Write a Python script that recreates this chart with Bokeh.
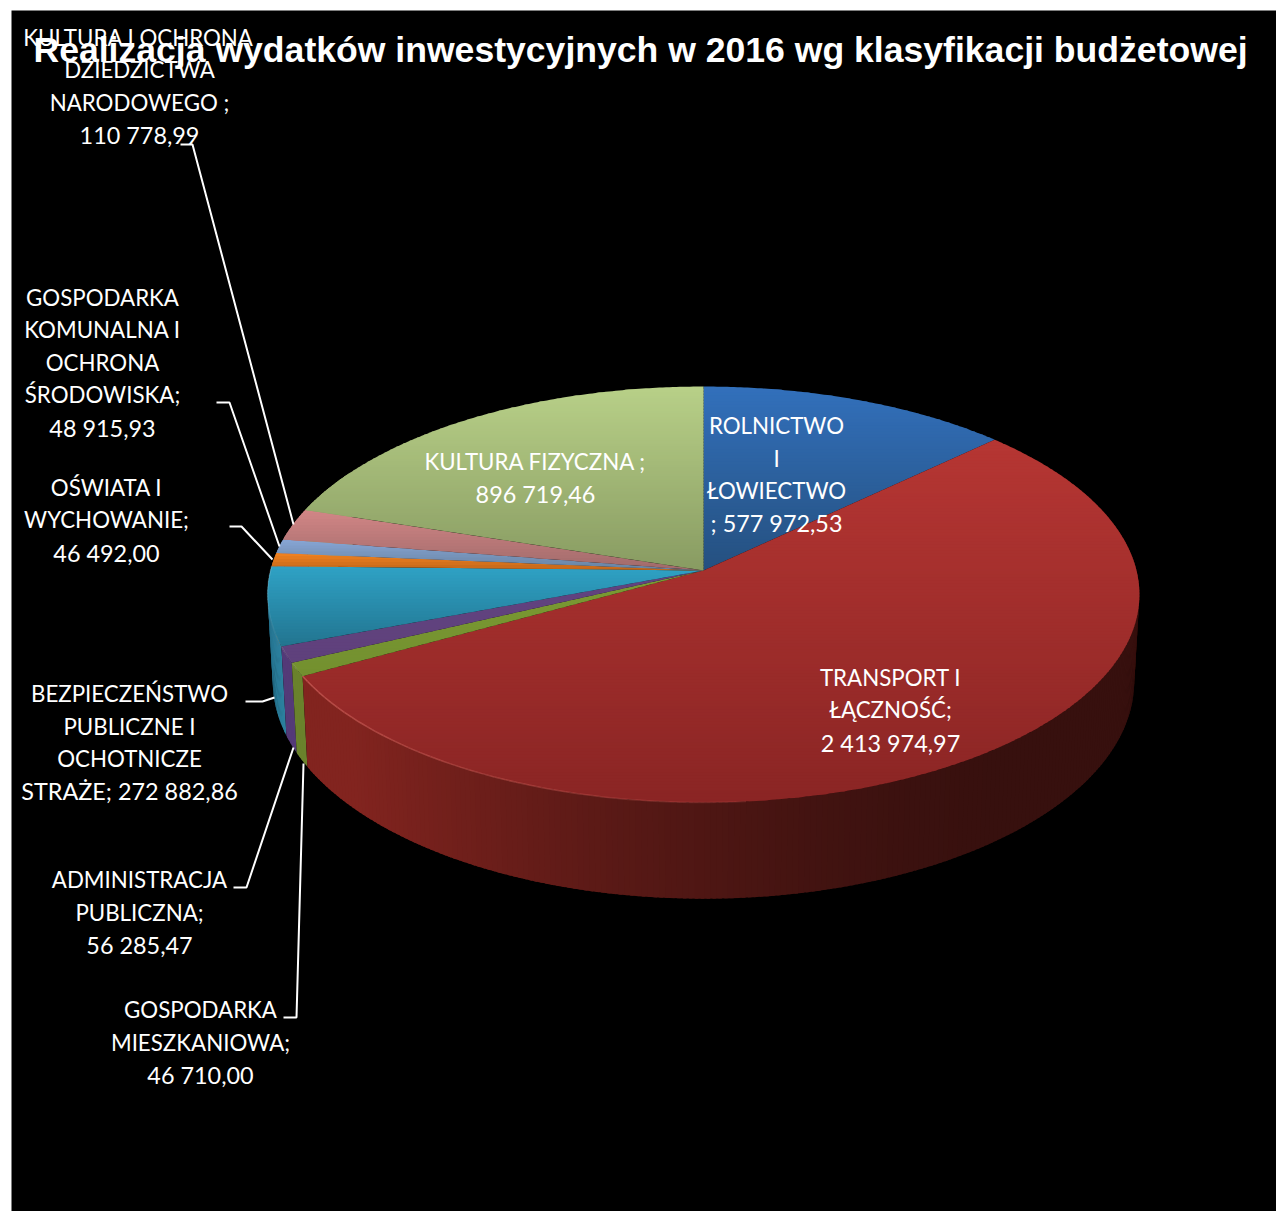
import math
from bokeh.embed import file_html
from bokeh.models import Range1d
from bokeh.plotting import figure
from bokeh.core.properties import value
from bokeh.resources import INLINE

# ---- data -------------------------------------------------------------
title = "Realizacja wydatków inwestycyjnych w 2016 wg klasyfikacji budżetowej"
categories = ["ROLNICTWO I ŁOWIECTWO", "TRANSPORT I ŁĄCZNOŚĆ", "GOSPODARKA MIESZKANIOWA",
              "ADMINISTRACJA PUBLICZNA", "BEZPIECZEŃSTWO PUBLICZNE I OCHOTNICZE STRAŻE",
              "OŚWIATA I WYCHOWANIE", "GOSPODARKA KOMUNALNA I OCHRONA ŚRODOWISKA",
              "KULTURA I OCHRONA DZIEDZICTWA NARODOWEGO", "KULTURA FIZYCZNA"]
values = [577972.53, 2413974.97, 46710.00, 56285.47, 272882.86,
          46492.00, 48915.93, 110778.99, 896719.46]

# ---- styles ------------------------------------------------------------
face_top = ["#3270bb", "#b63633", "#7b9a33", "#624380", "#2fa2c5", "#f2821f", "#88a6d6", "#d28686", "#b8d088"]
face_bot = ["#25507f", "#8a2524", "#73902f", "#5f417c", "#22748f", "#c0661a", "#66829f", "#a06a6a", "#889b62"]
side_left = ["#25507f", "#82241f", "#6a822c", "#543a78", "#2c809e", "#c0661a", "#66829f", "#a06a6a", "#889b62"]
side_right = ["#25507f", "#37100e", "#6a822c", "#543a78", "#1f6680", "#c0661a", "#66829f", "#a06a6a", "#889b62"]

CX, CY, A, B, K = 703.0, 570.0, 433.0, 205.2, 0.1154
CY2, SX2, SY2 = 656.0, 0.988, 1.044


def hex2(c):
    return [int(c[i:i + 2], 16) for i in (1, 3, 5)]


def mix(c1, c2, t):
    t = max(0.0, min(1.0, t))
    a, b = hex2(c1), hex2(c2)
    return "#%02x%02x%02x" % tuple(round(a[i] + (b[i] - a[i]) * t) for i in range(3))


def top_pt(th):
    s, c = math.sin(th), math.cos(th)
    w = 1 + K * c
    return CX + A * s / w, CY - B * c / w


def bot_pt(th):
    x, y = top_pt(th)
    return CX + (x - CX) * SX2, CY2 + (y - CY) * SY2


def clip(poly, lo, hi):
    def cut(pts, inside, yb):
        out = []
        for i, p in enumerate(pts):
            q = pts[(i + 1) % len(pts)]
            ip, iq = inside(p[1]), inside(q[1])
            if ip:
                out.append(p)
            if ip != iq:
                t = (yb - p[1]) / (q[1] - p[1])
                out.append((p[0] + (q[0] - p[0]) * t, yb))
        return out
    r = cut(poly, lambda y: y >= lo, lo)
    return cut(r, lambda y: y <= hi, hi) if r else r


total = sum(values)
angles = [0.0]
for v in values:
    angles.append(angles[-1] + v / total * 2 * math.pi)

# ---- figure ------------------------------------------------------------
p = figure(width=1276, height=1211, output_backend="svg", toolbar_location=None,
           x_range=Range1d(0, 1276), y_range=Range1d(1211, 0), min_border=0,
           background_fill_color="white", border_fill_color="white")
p.axis.visible = False
p.grid.visible = False
p.outline_line_color = None
p.quad(left=[11], right=[1276], top=[10], bottom=[1211], fill_color="black", line_color=None)

# side walls (only the near half can be seen), painted far to near
walls = []
for i in range(len(values)):
    a0, a1 = angles[i], angles[i + 1]
    lo, hi = max(a0, math.radians(60)), min(a1, math.radians(300))
    if hi <= lo:
        continue
    n = max(2, int((hi - lo) / math.radians(0.7)))
    for j in range(n):
        t0 = lo + (hi - lo) * j / n
        t1 = lo + (hi - lo) * min(j + 1.6, n) / n
        x0, y0 = top_pt(t0); x1, y1 = top_pt(t1)
        x2, y2 = bot_pt(t1); x3, y3 = bot_pt(t0)
        u = (x0 - 267) / 872
        if i == 1:
            col = mix("#37100e", side_left[i], max(0, (0.85 - u) / 0.75) ** 1.5)
        else:
            col = mix(side_left[i], side_right[i], (j + 0.5) / n)
        walls.append((max(y2, y3), [x0, x1, x2, x3], [y0, y1, y2, y3], col))
walls.sort(key=lambda w: w[0])
p.patches([w[1] for w in walls], [w[2] for w in walls], fill_color=[w[3] for w in walls], line_color=None)

# top face, painted in horizontal bands for the vertical gradient
fx, fy, fc = [], [], []
for i in range(len(values)):
    a0, a1 = angles[i], angles[i + 1]
    n = max(4, int((a1 - a0) / math.radians(0.5)))
    poly = [(CX, CY)] + [top_pt(a0 + (a1 - a0) * j / n) for j in range(n + 1)]
    ys = [q[1] for q in poly]
    ymin, ymax = min(ys), max(ys)
    y = ymin
    while y < ymax:
        part = clip(poly, y, min(y + 3.8, ymax))
        if len(part) >= 3:
            fx.append([q[0] for q in part]); fy.append([q[1] for q in part])
            fc.append(mix(face_top[i], face_bot[i], (y + 1.5 - ymin) / (ymax - ymin)))
        y += 3.0
p.patches(fx, fy, fill_color=fc, line_color=None)

# bevelled rim light on the near edge
rx, ry, ra, rc = [], [], [], []
for i in (1, 2, 3, 4):
    a0, a1 = max(angles[i], math.radians(175)), angles[i + 1]
    n = max(2, int((a1 - a0) / math.radians(1.5)))
    for j in range(n):
        t0 = a0 + (a1 - a0) * j / n
        t1 = a0 + (a1 - a0) * (j + 1) / n
        x0, y0 = top_pt(t0); x1, y1 = top_pt(t1)
        rx.append([x0, x1]); ry.append([y0, y1])
        rc.append("#d0605a" if i == 1 else "#ffffff")
        ra.append((0.75 if i == 1 else 0.18) * (0.25 + 0.75 * (t0 - a0) / max(a1 - a0, 1e-6)))
p.multi_line(rx, ry, line_color=rc, line_alpha=ra, line_width=1.5)

# ---- leader lines ------------------------------------------------------
leader_x = [[180, 192, 293], [216, 229, 279], [229, 241, 272], [245, 262, 274], [233, 246, 293], [283, 296, 303]]
leader_y = [[144, 144, 524], [402, 402, 546], [526, 526, 559], [701, 701, 697], [887, 887, 747], [1017, 1017, 763]]
p.multi_line(leader_x, leader_y, line_color="white", line_width=2)

# ---- labels ------------------------------------------------------------
word_lines = [
    ("KULTURA I OCHRONA", 138, 37), ("DZIEDZICTWA", 139, 69), ("NARODOWEGO ;", 139, 102),
    ("GOSPODARKA", 102, 297), ("KOMUNALNA I", 102, 329), ("OCHRONA", 102, 362), ("ŚRODOWISKA;", 102, 394),
    ("OŚWIATA I", 106, 487), ("WYCHOWANIE;", 106, 519),
    ("BEZPIECZEŃSTWO", 129, 693), ("PUBLICZNE I", 129, 726), ("OCHOTNICZE", 129, 758),
    ("ADMINISTRACJA", 139, 879), ("PUBLICZNA;", 139, 912),
    ("GOSPODARKA", 200, 1009), ("MIESZKANIOWA;", 200, 1042),
    ("KULTURA FIZYCZNA ;", 535, 461),
    ("ROLNICTWO", 776, 425), ("I", 776, 458), ("ŁOWIECTWO", 776, 490),
    ("TRANSPORT I", 890, 677), ("ŁĄCZNOŚĆ;", 890, 709),
]
number_lines = [
    ("110 778,99", 139, 134), ("48 915,93", 102, 427), ("46 492,00", 106, 552),
    ("STRAŻE; 272 882,86", 129, 790), ("56 285,47", 139, 944), ("46 710,00", 200, 1074),
    ("896 719,46", 535, 493), ("; 577 972,53", 776, 522), ("2 413 974,97", 890, 742),
]
p.text(x=[l[1] for l in word_lines], y=[l[2] for l in word_lines], text=[l[0] for l in word_lines],
       text_color="white", text_font=value("Lato"), text_font_size="22.3px",
       text_align="center", text_baseline="middle")
p.text(x=[l[1] for l in number_lines], y=[l[2] for l in number_lines], text=[l[0] for l in number_lines],
       text_color="white", text_font=value("Lato"), text_font_size="23.4px",
       text_align="center", text_baseline="middle")
p.text(x=[640], y=[49], text=[title], text_color="white", text_font=value("Liberation Sans"),
       text_font_style="bold", text_font_size="35.6px", text_align="center", text_baseline="middle")

open("out.html", "w").write(file_html(p, INLINE))
